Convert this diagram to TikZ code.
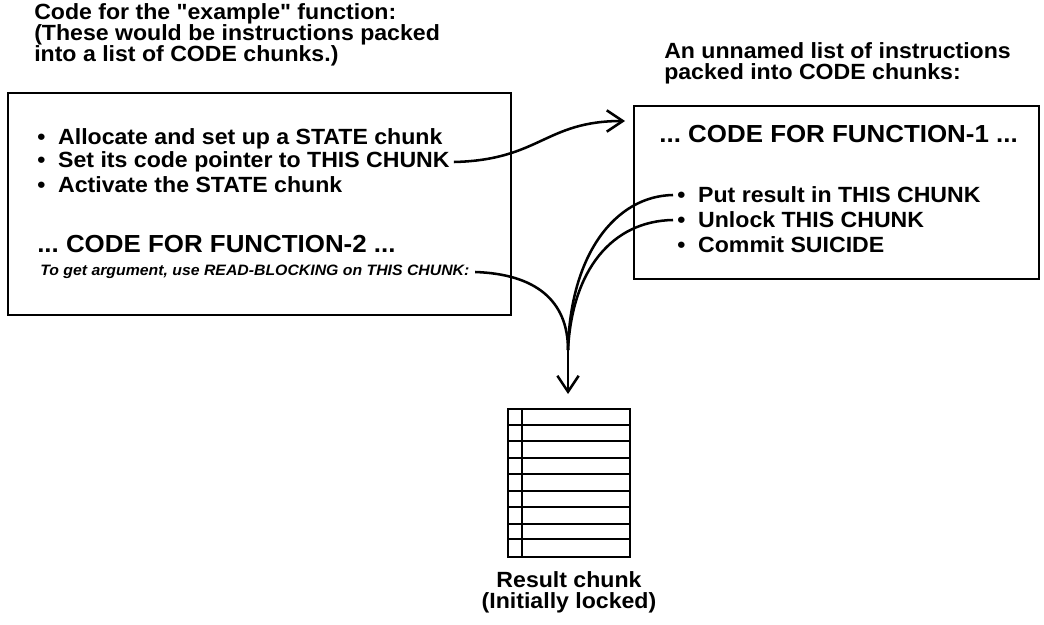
\documentclass[tikz,border=0pt]{standalone}
\usepackage{fontspec}
\setmainfont{Liberation Sans}[Ligatures=TeXOff, FakeStretch=1.05]
\usetikzlibrary{arrows.meta}
\begin{document}
\frenchspacing
\begin{tikzpicture}[x=0.75pt,y=-0.75pt,
  txt/.style={font=\bfseries\fontsize{16.5}{17.5}\selectfont, inner sep=0pt, anchor=west},
  big/.style={font=\bfseries\fontsize{18.5}{19.5}\selectfont, inner sep=0pt, anchor=west},
  ttl/.style={font=\bfseries\fontsize{16.5}{15.6}\selectfont, inner sep=0pt, anchor=west, align=left},
  note/.style={font=\bfseries\itshape\fontsize{11.3}{12}\selectfont, inner sep=0pt, anchor=west},
  frame/.style={draw, line width=1.8pt, inner sep=0pt, anchor=north west},
  wire/.style={line width=1.9pt},
  tip/.style={-{Straight Barb[length=12pt,width=16pt,line width=1.9pt]}},
  grid/.style={line width=1.4pt}
]
\useasboundingbox (0,0) rectangle (1044,624);

% headings
\node[ttl] (lt) at (34,35) {Code for the "example" function:\\(These would be instructions packed\\into a list of CODE chunks.)};
\node[ttl] (rt) at (664,63) {An unnamed list of instructions\\packed into CODE chunks:};

% left code box (503 x 222 px)
\node[frame, minimum width=377.25pt, minimum height=166.5pt] (lbox) at (7,92) {};
\node[txt] (l1) at (37,139) {\textbullet\ \ Allocate and set up a STATE chunk};
\node[txt] (l2) at (37,162) {\textbullet\ \ Set its code pointer to THIS CHUNK};
\node[txt] (l3) at (37,185) {\textbullet\ \ Activate the STATE chunk};
\node[big] (l4) at (37,244) {... CODE FOR FUNCTION-2 ...};
\node[note] (l5) at (40,272) {To get argument, use READ-BLOCKING on THIS CHUNK:};

% right code box (405 x 173 px)
\node[frame, minimum width=303.75pt, minimum height=129.75pt] (rbox) at (633,105) {};
\node[big, anchor=east] (r1) at (1018,134) {... CODE FOR FUNCTION-1 ...};
\node[txt] (r2) at (677,195) {\textbullet\ \ Put result in THIS CHUNK};
\node[txt] (r3) at (677,220) {\textbullet\ \ Unlock THIS CHUNK};
\node[txt] (r4) at (677,245) {\textbullet\ \ Commit SUICIDE};

% result chunk: nine rows with a narrow left column
\node[draw, line width=1.6pt, minimum width=91.5pt, minimum height=111pt, inner sep=0pt, anchor=north west] (chunk) at (507,408) {};
\foreach \y in {425,441,458,474,491,507,524} \draw[grid] (chunk.west |- 0,\y) -- (chunk.east |- 0,\y);
\draw[line width=2.2pt] (chunk.west |- 0,539) -- (chunk.east |- 0,539);
\draw[grid] (chunk.north west) ++(15,0) -- ++(0,148);
\node[font=\bfseries\fontsize{16.5}{15.6}\selectfont, align=center, inner sep=0pt] (rc) at (569,592) {Result chunk\\(Initially locked)};

\coordinate (ctop) at (568,394);
\coordinate (merge) at (568,350);

% connectors
\draw[wire, tip] ([xshift=3pt]l2.east) .. controls (540,160) and (545,121) .. ([xshift=-6pt]rbox.west |- 0,121);
\draw[wire] ([xshift=4pt]l5.east) .. controls (535,274) and (568,300) .. (merge);
\draw[wire] ([xshift=-3pt]r2.west) .. controls (615,196) and (570,255) .. (merge);
\draw[wire] ([xshift=-3pt]r3.west) .. controls (612,221) and (572,270) .. (merge);
\draw[wire, tip] (merge) -- (ctop);
\end{tikzpicture}
\end{document}
